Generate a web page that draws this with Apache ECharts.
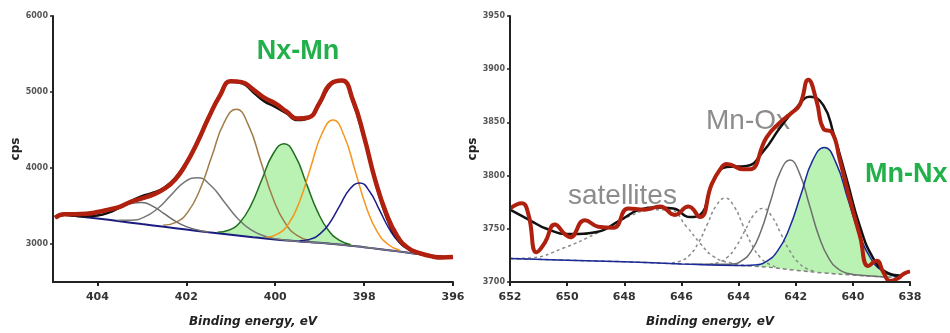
<!DOCTYPE html>
<html>
<head>
<meta charset="utf-8">
<script src="https://cdn.jsdelivr.net/npm/echarts@6/dist/echarts.min.js"></script>
<style>
html, body { margin: 0; padding: 0; background: #fff; }
#chart { width: 950px; height: 333px; }
</style>
</head>
<body>
<div id="chart"></div>
<script>
// N 1s panel (left)
var n1sE = [404.95, 404.75, 404.5, 404.25, 404, 403.75, 403.5, 403.25, 403, 402.75, 402.5, 402.25, 402, 401.75, 401.5, 401.25, 401, 400.75, 400.5, 400.25, 400, 399.75, 399.5, 399.25, 399, 398.75, 398.5, 398.25, 398, 397.75, 397.5, 397.25, 397, 396.75, 396.5, 396.25, 396];
var n1sRaw = [3345, 3392, 3392, 3398, 3420, 3452, 3490, 3555, 3600, 3650, 3725, 3850, 4060, 4340, 4660, 4945, 5140, 5130, 5035, 4925, 4850, 4745, 4650, 4665, 4860, 5110, 5150, 4890, 4410, 3840, 3400, 3100, 2945, 2880, 2840, 2822, 2828];
var n1sFit = [3345, 3386, 3371, 3364, 3374, 3413, 3483, 3563, 3628, 3675, 3740, 3868, 4076, 4353, 4675, 4960, 5135, 5115, 5000, 4880, 4805, 4720, 4630, 4662, 4848, 5090, 5150, 4866, 4390, 3829, 3359, 3069, 2932, 2874, 2847, 2833, 2820];
var n1sBaseE = [404.95, 404.75, 404.5, 404, 403.5, 403, 402.5, 402, 401.5, 401, 400.5, 400, 399.5, 399, 398.5, 398, 397.5, 397, 396.5, 396];
var n1sBase = [3345, 3385, 3368, 3335, 3300, 3262, 3226, 3190, 3155, 3122, 3090, 3060, 3036, 3015, 2990, 2958, 2922, 2885, 2845, 2820];
var p1E = [404.5, 404.25, 404, 403.75, 403.5, 403.25, 403, 402.75, 402.5, 402.25, 402, 401.75, 401.5];
var p1 = [3371, 3364, 3374, 3410, 3473, 3532, 3547, 3496, 3399, 3300, 3229, 3185, 3158];
var p2E = [403.55, 403.25, 402.95, 402.65, 402.35, 402.05, 401.75, 401.45, 401.15, 400.85, 400.55, 400.25, 399.95, 399.5, 399, 398.5, 398, 397.5, 397, 396.5, 396];
var p2 = [3311, 3312, 3353, 3464, 3640, 3811, 3873, 3770, 3557, 3340, 3188, 3106, 3065, 3036, 3015, 2990, 2958, 2922, 2885, 2845, 2820];
var p3E = [402.525, 402.25, 401.975, 401.7, 401.425, 401.15, 400.875, 400.6, 400.325, 400.05, 399.775, 399.5, 399.225];
var p3 = [3246, 3281, 3413, 3708, 4157, 4597, 4774, 4561, 4086, 3602, 3274, 3109, 3043];
var p4E = [401.3, 401.05, 400.8, 400.55, 400.3, 400.05, 399.8, 399.55, 399.3, 399.05, 398.8, 398.55, 398.3];
var p4 = [3156, 3181, 3281, 3506, 3848, 4184, 4320, 4159, 3798, 3430, 3177, 3048, 2991];
var p5E = [400.2, 399.95, 399.7, 399.45, 399.2, 398.95, 398.7, 398.45, 398.2, 397.95, 397.7, 397.45, 397.2];
var p5 = [3090, 3129, 3266, 3563, 4012, 4451, 4631, 4425, 3959, 3484, 3157, 2990, 2918];
var p6E = [399.45, 399.225, 399, 398.775, 398.55, 398.325, 398.1, 397.875, 397.65, 397.425, 397.2, 396.975, 396.75];
var p6 = [3043, 3061, 3129, 3277, 3502, 3720, 3804, 3691, 3442, 3189, 3014, 2920, 2874];

// Mn 2p panel (right)
var mnRawE = [652, 651.59, 651.36, 651.07, 650.78, 650.43, 650.08, 649.9, 649.38, 648.91, 648.38, 647.86, 647.28, 646.75, 646.23, 645.76, 645.35, 644.94, 644.59, 644.42, 643.83, 643.6, 643.02, 642.55, 642.14, 641.85, 641.56, 641.27, 641.03, 640.74, 640.45, 640.1, 639.75, 639.46, 639.17, 638.93, 638.7, 638.45, 638.2, 638];
var mnRaw = [3769, 3774, 3764, 3728, 3737, 3754, 3745, 3742, 3758, 3752, 3751, 3769, 3768, 3771, 3763, 3771, 3761, 3792, 3808, 3811, 3806, 3806, 3836, 3850, 3859, 3867, 3890, 3870, 3844, 3841, 3814, 3777, 3743, 3715, 3720, 3709, 3701, 3703, 3708, 3710];
var mnFitE = [652, 651.3, 650.72, 649.9, 648.97, 648.15, 647.45, 646.87, 646.28, 645.7, 645.35, 644.88, 644.42, 643.72, 643.13, 642.55, 641.97, 641.5, 641.03, 640.68, 640.22, 639.75, 639.28, 638.82, 638.35];
var mnFit = [3768, 3758, 3750, 3745, 3747, 3758, 3768, 3770, 3769, 3761, 3763, 3795, 3808, 3809, 3823, 3845, 3864, 3874, 3866, 3840, 3797, 3752, 3722, 3709, 3706];
var mnBaseE = [652, 650, 648, 646, 644, 643, 642, 641, 640, 639, 638.3];
var mnBase = [3722, 3720.5, 3719, 3717, 3715.5, 3714, 3711, 3708.5, 3706.5, 3705, 3704];
var mnNxE = [652, 650, 648, 646, 644, 643.46, 643.05, 642.64, 642.23, 641.82, 641.41, 641, 640.59, 640.18, 639.77, 639.36, 638.95, 638.54, 638.3];
var mnNx = [3722, 3720.5, 3719, 3717, 3715.5, 3716, 3719, 3729, 3750, 3782, 3814, 3826.5, 3812, 3778.5, 3744.4, 3721.5, 3710, 3705.6, 3704];
var mnOxE = [645.5, 644.24, 643.9, 643.56, 643.22, 642.88, 642.54, 642.2, 641.86, 641.52, 641.18, 640.84, 640.5, 640.16, 639.5, 638.8];
var mnOx = [3716.6, 3716.8, 3719.8, 3728.7, 3747.7, 3776.1, 3803.5, 3814.6, 3801.6, 3772.3, 3742.4, 3722.1, 3712, 3707.9, 3705.8, 3704.7];
var satAE = [646.33, 646.02, 645.71, 645.4, 645.09, 644.78, 644.47, 644.16, 643.85, 643.54, 643.23, 642.92, 642.61];
var satA = [3718, 3719.8, 3725.3, 3737.1, 3754.5, 3771.7, 3778.9, 3771.2, 3753.5, 3735.3, 3722.8, 3716.6, 3713.5];
var satBE = [645.01, 644.7, 644.39, 644.08, 643.77, 643.46, 643.15, 642.84, 642.53, 642.22, 641.91, 641.6, 641.29];
var satB = [3716.8, 3718.4, 3723.2, 3733.5, 3748.6, 3763.3, 3769.2, 3761.8, 3746, 3729.8, 3718.4, 3712.4, 3709.8];
var satCE = [652, 651.3, 650.13, 648.97, 647.8, 646.98, 646.4, 645.82, 645.35, 644.88, 644.3, 643.5];
var satC = [3722, 3722.6, 3731.9, 3745.8, 3762, 3768, 3767.6, 3752, 3736.5, 3724, 3718, 3715];

var n1sTicks = [396, 398, 400, 402, 404];
var n1sYTicks = [3000, 4000, 5000, 6000];

function pairs(xs, ys) {
	var out = [];
	for (var i = 0; i < xs.length; i++) out.push([xs[i], ys[i]]);
	return out;
}
function plain(v) {
	return String(v);
}

var tickFont = { fontSize: 11, fontWeight: 'bold', fontFamily: 'DejaVu Sans', color: '#333', formatter: plain };
var smallFont = { fontSize: 8, fontWeight: 'bold', fontFamily: 'DejaVu Sans', color: '#555', formatter: plain };
var axisLine = { show: true, lineStyle: { color: '#222', width: 2 } };
var nameX = { fontSize: 12, fontWeight: 'bold', fontStyle: 'italic', fontFamily: 'DejaVu Sans', color: '#222' };
var nameY = { fontSize: 12, fontWeight: 'bold', fontFamily: 'DejaVu Sans', color: '#222' };

function line(name, xi, data, color, width, z, extra) {
	var s = {
		name: name, type: 'line', xAxisIndex: xi, yAxisIndex: xi,
		data: data, smooth: true, showSymbol: false, symbol: 'none', z: z,
		lineStyle: { color: color, width: width }
	};
	for (var k in extra) s[k] = extra[k];
	return s;
}

var option = {
	animation: false,
	backgroundColor: '#fff',
	grid: [
		{ left: 53, right: 497, top: 16, bottom: 48 },
		{ left: 510, right: 40, top: 16, bottom: 47 }
	],
	xAxis: [{
		type: 'value', gridIndex: 0, min: 396, max: 405, inverse: true, z: 10,
		axisLine: axisLine,
		axisTick: { customValues: n1sTicks, length: 4, lineStyle: { color: '#222', width: 2 } },
		axisLabel: Object.assign({ customValues: n1sTicks, margin: 10 }, tickFont),
		splitLine: { show: false },
		name: 'Binding energy, eV', nameLocation: 'middle', nameGap: 34, nameTextStyle: nameX
	}, {
		type: 'value', gridIndex: 1, min: 638, max: 652, interval: 2, inverse: true, z: 10,
		axisLine: axisLine,
		axisTick: { length: 4, lineStyle: { color: '#222', width: 2 } },
		axisLabel: Object.assign({ margin: 10 }, tickFont),
		splitLine: { show: false },
		name: 'Binding energy, eV', nameLocation: 'middle', nameGap: 34, nameTextStyle: nameX
	}],
	yAxis: [{
		type: 'value', gridIndex: 0, min: 2500, max: 6000, z: 10,
		axisLine: axisLine,
		axisTick: { customValues: n1sYTicks, length: 3, lineStyle: { color: '#222', width: 1.5 } },
		axisLabel: Object.assign({ customValues: n1sYTicks, margin: 5 }, smallFont),
		splitLine: { show: false },
		name: 'cps', nameLocation: 'middle', nameGap: 30, nameTextStyle: nameY
	}, {
		type: 'value', gridIndex: 1, min: 3700, max: 3950, interval: 50, z: 10,
		axisLine: axisLine,
		axisTick: { length: 3, lineStyle: { color: '#222', width: 1.5 } },
		axisLabel: Object.assign({ margin: 5 }, smallFont),
		splitLine: { show: false },
		name: 'cps', nameLocation: 'middle', nameGap: 31, nameTextStyle: nameY
	}],
	graphic: [
		{ type: 'text', x: 298, y: 52, z: 0, style: { text: 'Nx-Mn', fill: '#22b04b', font: 'bold 27px "Liberation Sans"', align: 'center', verticalAlign: 'middle' } },
		{ type: 'text', x: 865, y: 175, z: 0, style: { text: 'Mn-Nx', fill: '#22b04b', font: 'bold 27px "Liberation Sans"', align: 'left', verticalAlign: 'middle' } },
		{ type: 'text', x: 706, y: 121, z: 0, style: { text: 'Mn-Ox', fill: '#8c8c8c', font: '28px "Liberation Sans"', align: 'left', verticalAlign: 'middle' } },
		{ type: 'text', x: 568, y: 196, z: 0, style: { text: 'satellites', fill: '#8c8c8c', font: '28px "Liberation Sans"', align: 'left', verticalAlign: 'middle' } }
	],
	series: [
		// left: green fill, white mask under background, component lines, fit, data
		line('N green fill', 0, pairs(p4E, p4), 'transparent', 0, 1, { areaStyle: { color: '#b9f2b3', opacity: 1 } }),
		line('N background', 0, pairs(n1sBaseE, n1sBase), '#1c1c80', 2, 2, { areaStyle: { color: '#fff', opacity: 1 } }),
		line('N p1', 0, pairs(p1E, p1), '#6a6a6a', 1.5, 3),
		line('N p2', 0, pairs(p2E, p2), '#777777', 1.5, 3),
		line('N p3', 0, pairs(p3E, p3), '#a07c48', 1.5, 3),
		line('N p4', 0, pairs(p4E, p4), '#1f6e1f', 1.5, 3),
		line('N p5', 0, pairs(p5E, p5), '#f5961e', 1.5, 3),
		line('N p6', 0, pairs(p6E, p6), '#1c1c8c', 1.5, 3),
		line('N fit', 0, pairs(n1sE, n1sFit), '#111', 2.5, 4),
		line('N data', 0, pairs(n1sE, n1sRaw), '#b0200f', 4.5, 5),
		// right
		line('Mn-Nx fill', 1, pairs(mnNxE, mnNx), 'transparent', 0, 1, { areaStyle: { color: '#b9f2b3', opacity: 1 } }),
		line('Mn background', 1, pairs(mnBaseE, mnBase), '#808080', 1.5, 2, { areaStyle: { color: '#fff', opacity: 1 }, lineStyle: { color: '#808080', width: 1.5, type: [4, 3] } }),
		line('sat C', 1, pairs(satCE, satC), '#8a8a8a', 1.5, 3, { lineStyle: { color: '#8a8a8a', width: 1.5, type: [3, 3] } }),
		line('sat A', 1, pairs(satAE, satA), '#8a8a8a', 1.5, 3, { lineStyle: { color: '#8a8a8a', width: 1.5, type: [3, 3] } }),
		line('sat B', 1, pairs(satBE, satB), '#8a8a8a', 1.5, 3, { lineStyle: { color: '#8a8a8a', width: 1.5, type: [3, 3] } }),
		line('Mn-Ox', 1, pairs(mnOxE, mnOx), '#6e6e6e', 1.5, 3),
		line('Mn-Nx', 1, pairs(mnNxE, mnNx), '#1a2a9a', 1.5, 3),
		line('Mn fit', 1, pairs(mnFitE, mnFit), '#111', 2.5, 4),
		line('Mn data', 1, pairs(mnRawE, mnRaw), '#b0200f', 4, 5, { smooth: 0.5 })
	]
};

var chart = echarts.init(document.getElementById('chart'));
chart.setOption(option);
</script>
</body>
</html>
